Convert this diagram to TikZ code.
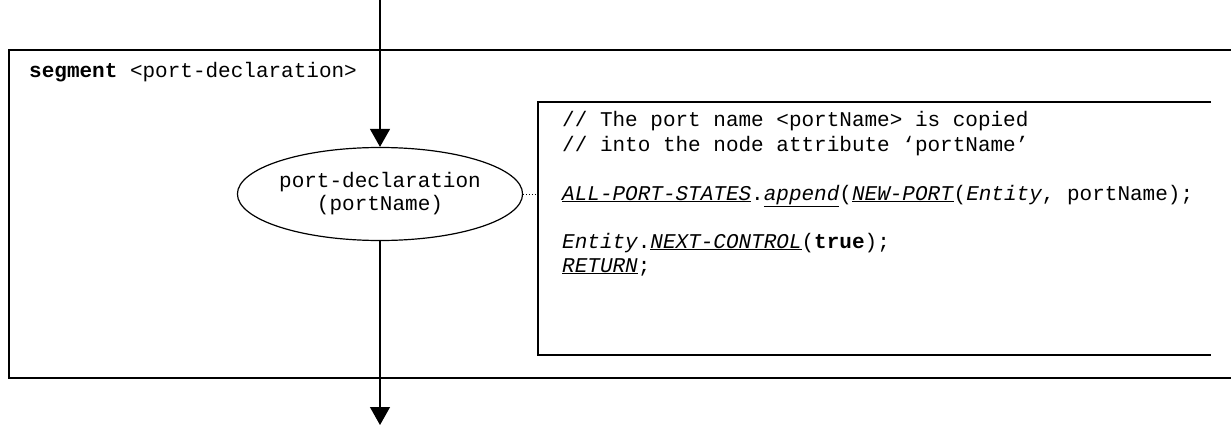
\documentclass[tikz,border=0pt]{standalone}
\usepackage{fontspec}
\setmainfont{Liberation Mono}
\usetikzlibrary{arrows.meta,shapes.geometric}
\begin{document}
\begin{tikzpicture}[x=1pt,y=-1pt,
  txt/.style={font=\fontsize{21}{24}\selectfont, inner sep=0pt, anchor=base west},
  frame/.style={line width=1.4pt},
  flow/.style={line width=1.2pt, -{Triangle[length=18pt,width=20pt]}},
  ell/.style={draw, ellipse, line width=1.2pt, minimum width=266pt, minimum height=93pt, inner sep=0pt, align=center, font=\fontsize{21}{23}\selectfont}]
\useasboundingbox (0,0) rectangle (1231,425);
% outer segment frame
\draw[frame] (1231,50) -- (9,50) -- (9,378) -- (1231,378);
\node[txt] (seg) at (29,78) {\textbf{segment} <port-declaration>};
% node
\node[ell] (pd) at (380,194) {port-declaration\\(portName)};
\coordinate (topin) at (380,0);
\coordinate (botout) at (380,425);
\draw[flow] (topin) -- (pd.north);
\draw[flow] (pd.south) -- (botout);
% code box
\draw[frame] (1211,102) -- (538,102) -- (538,355) -- (1211,355);
\coordinate (cboxl) at (538,192);
\draw[dotted, line width=0.9pt] (pd.east) -- (pd.east -| cboxl);
\node[txt] (c1) at (562,127) {// The port name <portName> is copied};
\node[txt] (c2) at (562,151) {// into the node attribute ‘portName’};
\node[txt] (c3) at (562,200) {\underline{\textit{ALL-PORT-STATES}}.\underline{\textit{append}}(\underline{\textit{NEW-PORT}}(\textit{Entity}, portName);};
\node[txt] (c4) at (562,248) {\textit{Entity}.\underline{\textit{NEXT-CONTROL}}(\textbf{true});};
\node[txt] (c5) at (562,272) {\underline{\textit{RETURN}};};
\end{tikzpicture}
\end{document}
